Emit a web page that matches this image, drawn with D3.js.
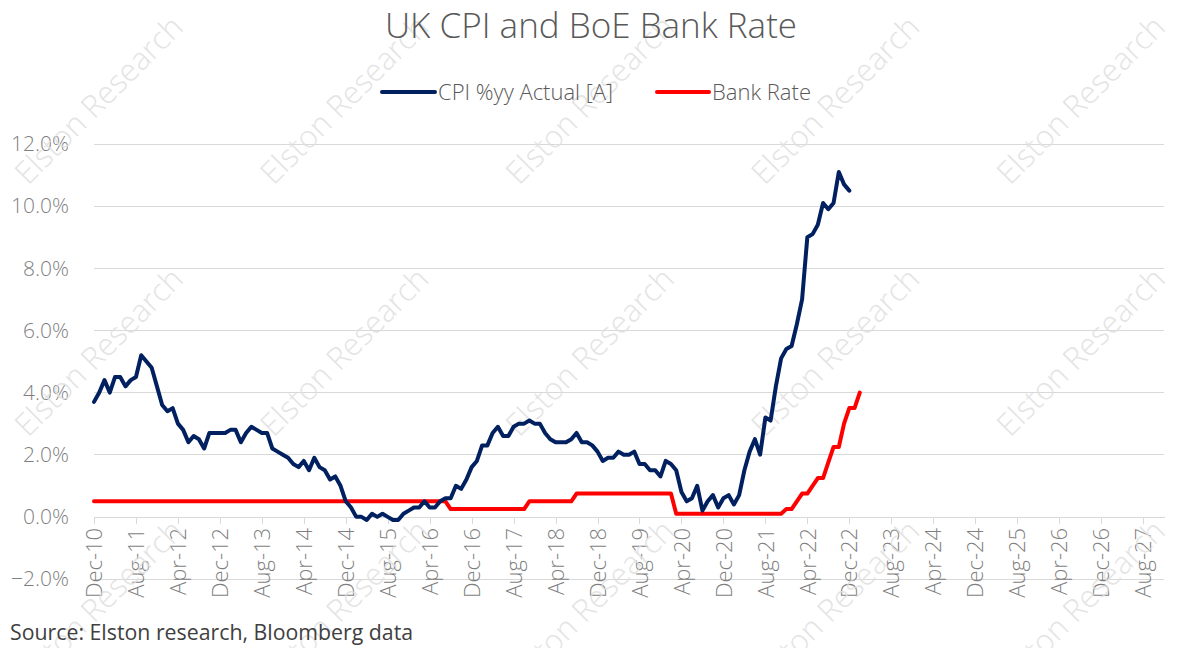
<!DOCTYPE html>
<html>
<head>
<meta charset="utf-8">
<script src="https://cdn.jsdelivr.net/npm/d3@7"></script>
<style>
  html, body { margin: 0; padding: 0; background: #fff; }
  svg { display: block; }
  text { font-family: "Open Sans", "Noto Sans", sans-serif; }
</style>
</head>
<body>
<svg id="chart" width="1188" height="648"></svg>
<script>
// ---------------- DATA ----------------
const startMonth = new Date(2010, 11, 1);   // Dec-10
const endMonth = new Date(2027, 11, 1);     // Dec-27 (last category on axis)

// UK CPI %yy, monthly Dec-10 .. Dec-22
const cpi = [
  3.7,
  4.0, 4.4, 4.0, 4.5, 4.5, 4.2, 4.4, 4.5, 5.2, 5.0, 4.8, 4.2,
  3.6, 3.4, 3.5, 3.0, 2.8, 2.4, 2.6, 2.5, 2.2, 2.7, 2.7, 2.7,
  2.7, 2.8, 2.8, 2.4, 2.7, 2.9, 2.8, 2.7, 2.7, 2.2, 2.1, 2.0,
  1.9, 1.7, 1.6, 1.8, 1.5, 1.9, 1.6, 1.5, 1.2, 1.3, 1.0, 0.5,
  0.3, 0.0, 0.0, -0.1, 0.1, 0.0, 0.1, 0.0, -0.1, -0.1, 0.1, 0.2,
  0.3, 0.3, 0.5, 0.3, 0.3, 0.5, 0.6, 0.6, 1.0, 0.9, 1.2, 1.6,
  1.8, 2.3, 2.3, 2.7, 2.9, 2.6, 2.6, 2.9, 3.0, 3.0, 3.1, 3.0,
  3.0, 2.7, 2.5, 2.4, 2.4, 2.4, 2.5, 2.7, 2.4, 2.4, 2.3, 2.1,
  1.8, 1.9, 1.9, 2.1, 2.0, 2.0, 2.1, 1.7, 1.7, 1.5, 1.5, 1.3,
  1.8, 1.7, 1.5, 0.8, 0.5, 0.6, 1.0, 0.2, 0.5, 0.7, 0.3, 0.6,
  0.7, 0.4, 0.7, 1.5, 2.1, 2.5, 2.0, 3.2, 3.1, 4.2, 5.1, 5.4,
  5.5, 6.2, 7.0, 9.0, 9.1, 9.4, 10.1, 9.9, 10.1, 11.1, 10.7, 10.5
];

// BoE Bank Rate %, monthly Dec-10 .. Feb-23
const bankRate = [
  0.5,
  0.5, 0.5, 0.5, 0.5, 0.5, 0.5, 0.5, 0.5, 0.5, 0.5, 0.5, 0.5,
  0.5, 0.5, 0.5, 0.5, 0.5, 0.5, 0.5, 0.5, 0.5, 0.5, 0.5, 0.5,
  0.5, 0.5, 0.5, 0.5, 0.5, 0.5, 0.5, 0.5, 0.5, 0.5, 0.5, 0.5,
  0.5, 0.5, 0.5, 0.5, 0.5, 0.5, 0.5, 0.5, 0.5, 0.5, 0.5, 0.5,
  0.5, 0.5, 0.5, 0.5, 0.5, 0.5, 0.5, 0.5, 0.5, 0.5, 0.5, 0.5,
  0.5, 0.5, 0.5, 0.5, 0.5, 0.5, 0.5, 0.25, 0.25, 0.25, 0.25, 0.25,
  0.25, 0.25, 0.25, 0.25, 0.25, 0.25, 0.25, 0.25, 0.25, 0.25, 0.5, 0.5,
  0.5, 0.5, 0.5, 0.5, 0.5, 0.5, 0.5, 0.75, 0.75, 0.75, 0.75, 0.75,
  0.75, 0.75, 0.75, 0.75, 0.75, 0.75, 0.75, 0.75, 0.75, 0.75, 0.75, 0.75,
  0.75, 0.75, 0.1, 0.1, 0.1, 0.1, 0.1, 0.1, 0.1, 0.1, 0.1, 0.1,
  0.1, 0.1, 0.1, 0.1, 0.1, 0.1, 0.1, 0.1, 0.1, 0.1, 0.1, 0.25,
  0.25, 0.5, 0.75, 0.75, 1.0, 1.25, 1.25, 1.75, 2.25, 2.25, 3.0, 3.5,
  3.5, 4.0
];

const yTicks = [-2, 0, 2, 4, 6, 8, 10, 12];
const tickEvery = 8;   // label every 8th month
const seriesNames = ["CPI %yy Actual [A]", "Bank Rate"];
const seriesColors = ["#002060", "#FF0000"];
const titleText = "UK CPI and BoE Bank Rate";
const sourceText = "Source: Elston research, Bloomberg data";
const watermarkText = "Elston Research";

// ---------------- CHART ----------------
const fmt = d3.timeFormat("%b-%y");
const categories = d3.timeMonth.range(startMonth, d3.timeMonth.offset(endMonth, 1)).map(fmt);

const svg = d3.select("#chart");
const W = 1188, H = 648;
const plot = { left: 94, right: 1164, top: 144, bottom: 579 };

const x = d3.scalePoint().domain(categories).range([plot.left, plot.right]);
const y = d3.scaleLinear().domain([-2, 12]).range([plot.bottom, plot.top]);

svg.append("rect").attr("width", W).attr("height", H).attr("fill", "#fff");

// gridlines
svg.append("g").selectAll("line").data(yTicks.filter(d => d !== 0)).join("line")
  .attr("x1", plot.left).attr("x2", plot.right)
  .attr("y1", d => y(d)).attr("y2", d => y(d))
  .attr("stroke", "#d9d9d9").attr("stroke-width", 1).attr("shape-rendering", "crispEdges");

// y labels
svg.append("g").selectAll("text").data(yTicks).join("text")
  .attr("x", 69).attr("y", d => y(d)).attr("dy", "0.35em")
  .attr("text-anchor", "end").attr("font-size", 21).attr("font-weight", 300).attr("fill", "#7f7f7f")
  .text(d => d3.format(".1f")(d) + "%");

// x axis at 0
const tickVals = categories.filter((d, i) => i % tickEvery === 0);
const xAxis = svg.append("g").attr("transform", `translate(0,${y(0)})`)
  .call(d3.axisBottom(x).tickValues(tickVals).tickSize(7).tickSizeOuter(0));
xAxis.select(".domain").attr("stroke", "#d9d9d9").attr("shape-rendering", "crispEdges");
xAxis.selectAll(".tick line").attr("stroke", "#d9d9d9").attr("shape-rendering", "crispEdges");
xAxis.selectAll(".tick text")
  .attr("font-size", 22).attr("font-weight", 300).attr("fill", "#7f7f7f")
  .attr("font-family", "'Open Sans', 'Noto Sans', sans-serif")
  .attr("text-anchor", "end")
  .attr("transform", "rotate(-90)")
  .attr("x", -11).attr("y", 0).attr("dy", "0.35em");

// watermarks
const wm = svg.append("g");
for (let j = 0; j < 3; j++) {
  for (let i = 0; i < 5; i++) {
    const wx = 28 + 245.5 * i, wy = 186 + 252 * j;
    wm.append("text")
      .attr("transform", `translate(${wx},${wy}) rotate(-45)`)
      .attr("font-size", 31).attr("font-weight", 300)
      .attr("fill", "#e0e0e0").attr("opacity", 0.85)
      .text(watermarkText);
  }
}

// lines
const line = d3.line().x((d, i) => x(categories[i])).y(d => y(d));
svg.append("path").datum(bankRate).attr("d", line)
  .attr("fill", "none").attr("stroke", seriesColors[1]).attr("stroke-width", 4)
  .attr("stroke-linejoin", "round").attr("stroke-linecap", "round");
svg.append("path").datum(cpi).attr("d", line)
  .attr("fill", "none").attr("stroke", seriesColors[0]).attr("stroke-width", 4)
  .attr("stroke-linejoin", "round").attr("stroke-linecap", "round");

// title
svg.append("text").attr("x", 591).attr("y", 38).attr("text-anchor", "middle")
  .attr("font-size", 35).attr("font-weight", 300).attr("fill", "#595959")
  .text(titleText);

// legend
const legendItems = [
  { name: seriesNames[0], color: seriesColors[0], x1: 382, x2: 435, tx: 438 },
  { name: seriesNames[1], color: seriesColors[1], x1: 657, x2: 709, tx: 712 }
];
const lg = svg.append("g");
legendItems.forEach(it => {
  lg.append("line").attr("x1", it.x1).attr("x2", it.x2).attr("y1", 92).attr("y2", 92)
    .attr("stroke", it.color).attr("stroke-width", 4).attr("stroke-linecap", "round");
  lg.append("text").attr("x", it.tx).attr("y", 92).attr("dy", "0.35em")
    .attr("font-size", 22).attr("font-weight", 300).attr("fill", "#595959").text(it.name);
});

// source
svg.append("text").attr("x", 10).attr("y", 640)
  .attr("font-size", 21.3).attr("fill", "#404040").text(sourceText);
</script>
</body>
</html>
